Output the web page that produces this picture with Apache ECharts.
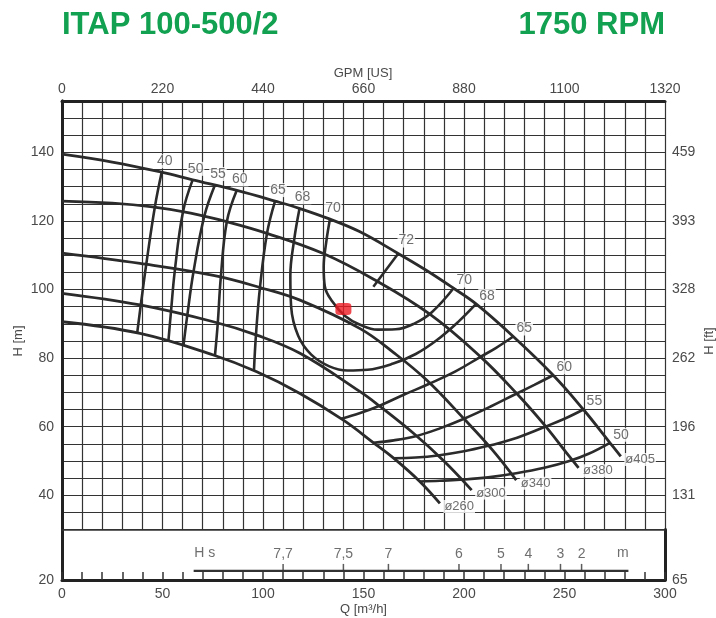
<!DOCTYPE html>
<html>
<head>
<meta charset="utf-8">
<script src="https://cdn.jsdelivr.net/npm/echarts/dist/echarts.min.js"></script>
<style>html,body{margin:0;padding:0;background:#fff}#main{width:716px;height:618px}</style>
</head>
<body>
<div id="main"></div>
<script>
// impeller diameter curves, [Q m3/h, H m]
var d405 = [[0,139.5],[25,137.2],[49,134.3],[65,132],[87,128.9],[106,125.8],[118,123.7],[133,120.6],[148,116.9],[167,110.6],[181,105.7],[195,100.3],[206,95.8],[224.5,86.3],[244.4,75],[259.4,65],[272.6,55.3],[278,51.3]];
var d380 = [[0,125.8],[25,125.2],[45,124.1],[64,122.3],[82,119.8],[102,116.4],[130,110.5],[155,103],[183,92.8],[208,80.5],[226,69.8],[240,60.5],[252,51.6],[257,48]];
var d340 = [[0,110.6],[38.8,107.6],[75.3,104.1],[98.5,100.6],[118.4,96.9],[148.3,88.6],[165,81.6],[181.4,73.6],[200,62.3],[214,53.3],[226,44.4]];
var d300 = [[0,98.9],[38.8,95.5],[75.3,90.6],[96.9,86.7],[118.4,81.4],[148.3,70.2],[158,66],[175,58],[190,50],[203.8,41.5]];
var d260 = [[0,90.6],[38.8,87.2],[75.3,80.9],[96.9,76],[118.4,69.7],[140,61.9],[155,55.3],[165,50.8],[178,44],[188,37.6]];
var diaNames = ['ø405', 'ø380', 'ø340', 'ø300', 'ø260'];

// efficiency lines (%)
var effL40 = [[49.6,134.2],[46.2,124.1],[41.9,107.3],[39.2,95.5],[37.4,87.3]];
var effL50 = [[65,132],[60.2,122.7],[56.2,105.9],[54.2,93.4],[52.9,84.8]];
var effL55 = [[76.1,130.5],[70.8,121.4],[65.4,105.1],[62.3,92.3],[60.4,83.5]];
var effL60 = [[86.9,128.9],[82,119.8],[79,103.5],[77.5,90.2],[76.1,80.7]];
var effL65 = [[106,125.8],[102,116.4],[98.5,100.6],[96.5,86.8],[95.5,76.3]];
var eff68 = [[118.2,123.7],[115.5,114.5],[113.6,104],[114,95],[117.5,86.5],[124,81],[133,77.6],[142,76.4],[152,76.6],[164.8,78.4],[176,81.2],[186.4,85.2],[197,90.5],[206,95.8]];
var eff70 = [[133.3,120.5],[131.5,114],[130.2,106.6],[130.8,100.8],[134.5,96.5],[141,92.2],[148,89.8],[157,88.3],[166,88.4],[175,90],[184,93.4],[194.7,100.3]];
var eff72 = [[167.3,110.5],[154.9,100.8]];
var effR65 = [[224.5,86.3],[216,83],[208,80.3],[196,76.2],[183,72.6],[170,69.3],[158,66.1],[148,63.9],[139,62.3]];
var effR60 = [[244.4,75],[235,72.2],[226,69.6],[213,65.8],[200,62.3],[188,59.5],[176.5,57.3],[165,56],[155,55.3]];
var effR55 = [[259.4,65],[250,62.3],[240,59.9],[224,56.3],[212,54.4],[200,52.8],[187,51.6],[176,51],[165,50.8]];
var effR50 = [[272.6,55.3],[262,52.1],[252,49.9],[240,48],[226,46.4],[212,45.2],[198,44.5],[188,44.2],[178,44]];
var effLeftNames = ['40', '50', '55', '60', '65', '68', '70'];
var effRightNames = ['70', '68', '65', '60', '55', '50'];

// best efficiency point
var bep = [[140, 94.3]];

// NPSH (Hs) scale
var hsQ = [110, 140, 162.4, 197.5, 218.4, 232, 248, 258.5];
var hsText = ['7,7', '7,5', '7', '6', '5', '4', '3', '2'];
var hsRange = [65.5, 281.8];
var hsEndQ = [71, 279];
var hsEndText = ['H s', 'm'];

// axis tick labels
var hLabels = [40, 60, 80, 100, 120, 140];
var ftLabels = ['131', '196', '262', '328', '393', '459'];
var stripLeft = '20';
var stripRight = '65';

var hsLevel = 21.8;
var ink = '#2b2b2b';
var txt = '#4a4a4a';
var font = 'Liberation Sans';

var chart = echarts.init(document.getElementById('main'));

function curve(data, w) {
    return {
        type: 'line', xAxisIndex: 0, yAxisIndex: 0, data: data,
        smooth: 0.4, symbol: 'none', silent: true, z: 3,
        lineStyle: { color: ink, width: w }
    };
}

var series = [];
[d405, d380, d340, d300, d260].forEach(function (d) { series.push(curve(d, 2.8)); });
[effL40, effL50, effL55, effL60, effL65, eff68, eff70, eff72, effR65, effR60, effR55, effR50].forEach(function (d) {
    series.push(curve(d, 2.6));
});

// efficiency labels
var effLabels = [];
[effL40, effL50, effL55, effL60, effL65, eff68, eff70].forEach(function (d, i) {
    effLabels.push({ value: d[0], name: effLeftNames[i], label: { offset: [3, -11] } });
});
effLabels.push({ value: eff72[0], name: '72', label: { offset: [8, -13] } });
[eff70[eff70.length - 1], eff68[eff68.length - 1], effR65[0], effR60[0], effR55[0], effR50[0]].forEach(function (p, i) {
    effLabels.push({ value: p, name: effRightNames[i], label: { offset: [11, -8] } });
});
series.push({
    type: 'scatter', xAxisIndex: 0, yAxisIndex: 0, data: effLabels, z: 6, silent: true,
    symbolSize: 1, itemStyle: { color: 'rgba(0,0,0,0)' },
    label: { show: true, position: 'inside', formatter: '{b}', color: txt, fontSize: 14, fontFamily: font,
             backgroundColor: '#fff', padding: [0, 1] }
});

// diameter labels
var diaLabels = [d405, d380, d340, d300, d260].map(function (d, i) {
    return { value: d[d.length - 1], name: diaNames[i] };
});
series.push({
    type: 'scatter', xAxisIndex: 0, yAxisIndex: 0, data: diaLabels, z: 6, silent: true,
    symbolSize: 1, itemStyle: { color: 'rgba(0,0,0,0)' },
    label: { show: true, position: 'right', distance: 3, offset: [0, 3], formatter: '{b}', color: txt,
             fontSize: 13, fontFamily: font, backgroundColor: '#fff', padding: [0, 1] }
});

// duty point
series.push({
    type: 'scatter', xAxisIndex: 0, yAxisIndex: 0, data: bep, z: 7, silent: true,
    symbol: 'roundRect', symbolSize: [16, 12], itemStyle: { color: '#ec1c24' }
});

// Hs scale in bottom strip
series.push({
    type: 'line', xAxisIndex: 2, yAxisIndex: 2, silent: true, symbol: 'none',
    data: [[hsRange[0], hsLevel], [hsRange[1], hsLevel]],
    lineStyle: { color: '#333', width: 2.4 }
});
series.push({
    type: 'scatter', xAxisIndex: 2, yAxisIndex: 2, silent: true,
    data: hsQ.map(function (q, i) { return { value: [q, hsLevel], name: hsText[i] }; }),
    symbol: 'rect', symbolSize: [1.5, 7], symbolOffset: [0, -3.5], itemStyle: { color: '#333' },
    label: { show: true, position: 'top', distance: 3, formatter: '{b}', color: txt, fontSize: 14, fontFamily: font }
});
series.push({
    type: 'scatter', xAxisIndex: 2, yAxisIndex: 2, silent: true,
    data: hsEndQ.map(function (q, i) { return { value: [q, hsLevel], name: hsEndText[i] }; }),
    symbolSize: 1, itemStyle: { color: 'rgba(0,0,0,0)' },
    label: { show: true, position: 'top', distance: 10, formatter: '{b}', color: txt, fontSize: 14, fontFamily: font }
});

var thick = { show: true, lineStyle: { color: '#222', width: 3 } };
var gridLine = { show: true, lineStyle: { color: '#333', width: 1.2 } };
var lab = { color: txt, fontSize: 14, fontFamily: font };

var option = {
    animation: false,
    backgroundColor: '#fff',
    grid: [
        { left: 62, top: 101, width: 603, height: 428.5 },
        { left: 62, top: 529.5, width: 603, height: 50.5 }
    ],
    xAxis: [
        { gridIndex: 0, type: 'value', min: 0, max: 300, interval: 10, position: 'bottom',
          axisLine: { show: true, lineStyle: { color: '#333', width: 1.5 } }, axisTick: { show: false },
          axisLabel: { show: false }, splitLine: gridLine },
        { gridIndex: 0, type: 'value', min: 0, max: 1320, interval: 220, position: 'top',
          axisLine: thick, axisTick: { show: false }, splitLine: { show: false },
          axisLabel: Object.assign({ margin: 5, formatter: function (v) { return String(v); } }, lab) },
        { gridIndex: 1, type: 'value', min: 0, max: 300, interval: 10, position: 'bottom',
          axisLine: thick, axisTick: { show: true, inside: true, length: 8, lineStyle: { color: '#333', width: 1.5 } },
          splitLine: { show: false },
          axisLabel: Object.assign({ margin: 7, showMinLabel: true, showMaxLabel: true,
              formatter: function (v) { return v % 50 === 0 ? String(v) : ''; } }, lab),
          name: 'Q [m³/h]', nameLocation: 'middle', nameGap: 23,
          nameTextStyle: { color: txt, fontSize: 13, fontFamily: font } }
    ],
    yAxis: [
        { gridIndex: 0, type: 'value', min: 30, max: 155, interval: 5, position: 'left',
          axisLine: thick, axisTick: { show: false }, splitLine: gridLine,
          axisLabel: Object.assign({ margin: 8, formatter: function (v) {
              return hLabels.indexOf(v) >= 0 ? String(v) : ''; } }, lab) },
        { gridIndex: 0, type: 'value', min: 30, max: 155, interval: 5, position: 'right',
          axisLine: thick, axisTick: { show: false }, splitLine: { show: false },
          axisLabel: Object.assign({ margin: 7, formatter: function (v) {
              var i = hLabels.indexOf(v); return i >= 0 ? ftLabels[i] : ''; } }, lab) },
        { gridIndex: 1, type: 'value', min: 20, max: 30, interval: 10, position: 'left',
          axisLine: thick, axisTick: { show: false }, splitLine: { show: false },
          axisLabel: Object.assign({ margin: 8, formatter: function (v) { return v === 20 ? stripLeft : ''; } }, lab) },
        { gridIndex: 1, type: 'value', min: 20, max: 30, interval: 10, position: 'right',
          axisLine: thick, axisTick: { show: false }, splitLine: { show: false },
          axisLabel: Object.assign({ margin: 7, formatter: function (v) { return v === 20 ? stripRight : ''; } }, lab) }
    ],
    graphic: [
        { type: 'text', x: 62, y: 25, style: { text: 'ITAP 100-500/2', fill: '#12a150',
          font: 'bold 31px "Liberation Sans"', textAlign: 'left', textVerticalAlign: 'middle' } },
        { type: 'text', x: 665, y: 25, style: { text: '1750 RPM', fill: '#12a150',
          font: 'bold 31px "Liberation Sans"', textAlign: 'right', textVerticalAlign: 'middle' } },
        { type: 'text', x: 363, y: 73, style: { text: 'GPM [US]', fill: txt,
          font: '13px "Liberation Sans"', textAlign: 'center', textVerticalAlign: 'middle' } },
        { type: 'text', x: 18, y: 341, rotation: Math.PI / 2, style: { text: 'H [m]', fill: txt,
          font: '13px "Liberation Sans"', textAlign: 'center', textVerticalAlign: 'middle' } },
        { type: 'text', x: 709, y: 341, rotation: Math.PI / 2, style: { text: 'H [ft]', fill: txt,
          font: '13px "Liberation Sans"', textAlign: 'center', textVerticalAlign: 'middle' } }
    ],
    series: series
};

chart.setOption(option);
</script>
</body>
</html>
